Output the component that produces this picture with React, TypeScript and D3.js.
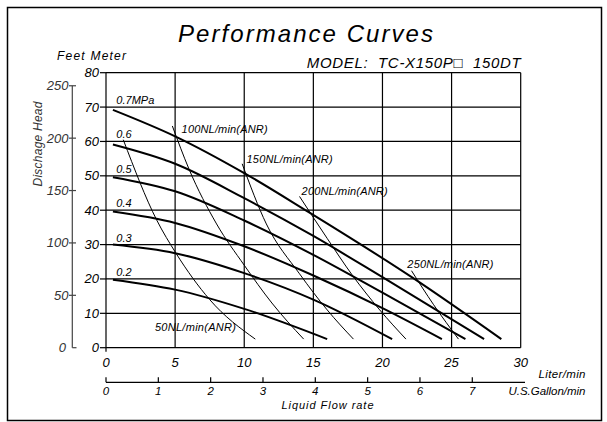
import React from "react";
import * as d3 from "d3";

// ---- data ----
const literTicks = [0, 5, 10, 15, 20, 25, 30];
const meterTicks = [0, 10, 20, 30, 40, 50, 60, 70, 80];
const feetTicks = [0, 50, 100, 150, 200, 250];
const gallonTicks = [0, 1, 2, 3, 4, 5, 6, 7];

// pressure curves: [liter/min, head m]
const p07: [number, number][] = [[0.5, 69.2], [5, 61.5], [10, 50.8], [14.6, 39.6], [22.2, 20.3], [28.6, 2.5]];
const p06: [number, number][] = [[0.5, 59.1], [5, 53.5], [10, 43.5], [15, 32.5], [20, 20.5], [27.35, 2.5]];
const p05: [number, number][] = [[0.5, 49.6], [5, 45.5], [10, 37], [15, 27], [20, 16], [26.0, 2.5]];
const p04: [number, number][] = [[0.5, 39.6], [5, 36.3], [10, 29.5], [15, 21], [20, 11.5], [24.3, 2.5]];
const p03: [number, number][] = [[0.5, 30], [5, 27.5], [10, 21.7], [15, 14], [20.7, 2.5]];
const p02: [number, number][] = [[0.5, 19.8], [5, 16.9], [10, 11.3], [16.0, 2.5]];

const pressureNames = ["0.7MPa", "0.6", "0.5", "0.4", "0.3", "0.2"];
const pressureSeries = [p07, p06, p05, p04, p03, p02];
const pressureLabelAt: [number, number][] = [[0.75, 70], [0.75, 60], [0.75, 50], [0.75, 40], [0.75, 30], [0.75, 20]];

// air consumption curves
const a50: [number, number][] = [[1.25, 60.5], [3.66, 37.2], [5.06, 27.5], [7.5, 14], [10.8, 2.5]];
const a100: [number, number][] = [[4.8, 64.5], [6, 52], [8, 36], [10, 24], [12, 13], [14.3, 2.5]];
const a150: [number, number][] = [[9.85, 53.5], [11.6, 36], [14, 21.5], [16, 11], [17.9, 2.5]];
const a200: [number, number][] = [[14.0, 44], [16, 31.8], [17.8, 21.2], [19.8, 11], [21.7, 2.5]];
const a250: [number, number][] = [[22.1, 22.4], [23.7, 12.5], [25.5, 2.5]];

const airNames = ["50NL/min(ANR)", "100NL/min(ANR)", "150NL/min(ANR)", "200NL/min(ANR)", "250NL/min(ANR)"];
const airSeries = [a50, a100, a150, a200, a250];
const airLabelAt: [number, number][] = [[3.54, 4.95], [5.47, 62.45], [10.17, 53.7], [14.15, 44.5], [21.8, 23.2]];

const FT_PER_M = 3.28084;
const L_PER_GAL = 3.78541;

export default function App() {
  const W = 607, H = 422;
  const x = d3.scaleLinear().domain([0, 30]).range([106, 520.7]);
  const y = d3.scaleLinear().domain([0, 80]).range([347.7, 72.7]);
  const yFeet = d3.scaleLinear().domain([0, 80 * FT_PER_M]).range([347.7, 72.7]);
  const xGal = d3.scaleLinear().domain([0, 30 / L_PER_GAL]).range([106, 520.7]);

  const line = d3
    .line<[number, number]>()
    .x((d) => x(d[0]))
    .y((d) => y(d[1]))
    .curve(d3.curveMonotoneX);

  const font = "'Liberation Sans', Arial, sans-serif";
  const it = { fontFamily: font, fontStyle: "italic" as const };

  const galY = 382.3;

  return (
    <svg width={W} height={H} style={{ position: "absolute", left: 0, top: 0, background: "#fff" }}>
      <rect x={0} y={0} width={W} height={H} fill="#fff" />
      {/* frame */}
      <rect x={7.5} y={7.5} width={594} height={413} fill="none" stroke="#000" strokeWidth={1.5} />

      {/* title */}
      <text x={305.5} y={42} textAnchor="middle" fontSize={24} {...it} textLength={255} lengthAdjust="spacing">
        Performance Curves
      </text>
      <text x={57} y={60} fontSize={12} {...it} textLength={69} lengthAdjust="spacing">
        Feet Meter
      </text>
      <text x={520.7} y={68} textAnchor="end" fontSize={15} {...it} textLength={214} lengthAdjust="spacing" xmlSpace="preserve">
        {"MODEL:  TC-X150P\u25A1  150DT"}
      </text>

      {/* grid */}
      {meterTicks.map((m) => (
        <line key={"h" + m} x1={x(0)} x2={x(30)} y1={y(m)} y2={y(m)} stroke="#000" strokeWidth={1.2} />
      ))}
      {literTicks.map((l) => (
        <line key={"v" + l} x1={x(l)} x2={x(l)} y1={y(80)} y2={l === 0 ? y(0) + 4 : y(0)} stroke="#000" strokeWidth={1.2} />
      ))}
      {/* meter ticks & labels */}
      {meterTicks.map((m) => (
        <g key={"mt" + m}>
          <line x1={x(0) - 6} x2={x(0)} y1={y(m)} y2={y(m)} stroke="#000" strokeWidth={1.2} />
          <text x={x(0) - 7} y={y(m) + 4.5} textAnchor="end" fontSize={13} {...it}>
            {m}
          </text>
        </g>
      ))}
      {literTicks.map((l) => (
        <text key={"lt" + l} x={x(l)} y={367} textAnchor="middle" fontSize={13} {...it}>
          {l}
        </text>
      ))}

      {/* feet axis */}
      <line x1={72.3} x2={72.3} y1={yFeet(250)} y2={yFeet(0)} stroke="#444" strokeWidth={1.2} />
      <line x1={72.3} x2={76.5} y1={yFeet(0)} y2={yFeet(0)} stroke="#444" strokeWidth={1.2} />
      {feetTicks.map((f) => (
        <g key={"ft" + f}>
          {f > 0 && <line x1={69} x2={76} y1={yFeet(f)} y2={yFeet(f)} stroke="#444" strokeWidth={1.2} />}
          <text x={f > 0 ? 68.5 : 66} y={yFeet(f) + 4.5} textAnchor="end" fontSize={13} fill="#333" {...it}>
            {f}
          </text>
        </g>
      ))}
      <text
        transform={`translate(41.5,144) rotate(-90)`}
        textAnchor="middle"
        fontSize={12}
        fill="#333"
        {...it}
        textLength={85}
        lengthAdjust="spacing"
      >
        Dischage Head
      </text>

      {/* gallon axis */}
      <line x1={xGal(0)} x2={525} y1={galY} y2={galY} stroke="#000" strokeWidth={1.2} />
      {gallonTicks.map((g) => (
        <g key={"gt" + g}>
          <line x1={xGal(g)} x2={xGal(g)} y1={galY - 5} y2={galY} stroke="#000" strokeWidth={1.2} />
          <text x={xGal(g)} y={395} textAnchor="middle" fontSize={11.5} {...it}>
            {g}
          </text>
        </g>
      ))}
      <text x={585.5} y={378} textAnchor="end" fontSize={11.5} {...it} textLength={47} lengthAdjust="spacing">
        Liter/min
      </text>
      <text x={585.5} y={395} textAnchor="end" fontSize={11.5} {...it} textLength={77} lengthAdjust="spacing">
        U.S.Gallon/min
      </text>
      <text x={327.5} y={409} textAnchor="middle" fontSize={11} {...it} textLength={92} lengthAdjust="spacing">
        Liquid Flow rate
      </text>

      {/* air consumption curves */}
      {airSeries.map((s, i) => (
        <path key={"a" + i} d={line(s) || ""} fill="none" stroke="#000" strokeWidth={1} />
      ))}
      {airNames.map((n, i) => (
        <text key={"an" + i} x={x(airLabelAt[i][0])} y={y(airLabelAt[i][1])} fontSize={11} {...it}
          textLength={i === 0 ? 81 : 86} lengthAdjust="spacing">
          {n}
        </text>
      ))}

      {/* pressure curves */}
      {pressureSeries.map((s, i) => (
        <path key={"p" + i} d={line(s) || ""} fill="none" stroke="#000" strokeWidth={2} />
      ))}
      {pressureNames.map((n, i) => (
        <text key={"pn" + i} x={x(pressureLabelAt[i][0])} y={y(pressureLabelAt[i][1]) - 3} fontSize={11} {...it}>
          {n}
        </text>
      ))}
    </svg>
  );
}
